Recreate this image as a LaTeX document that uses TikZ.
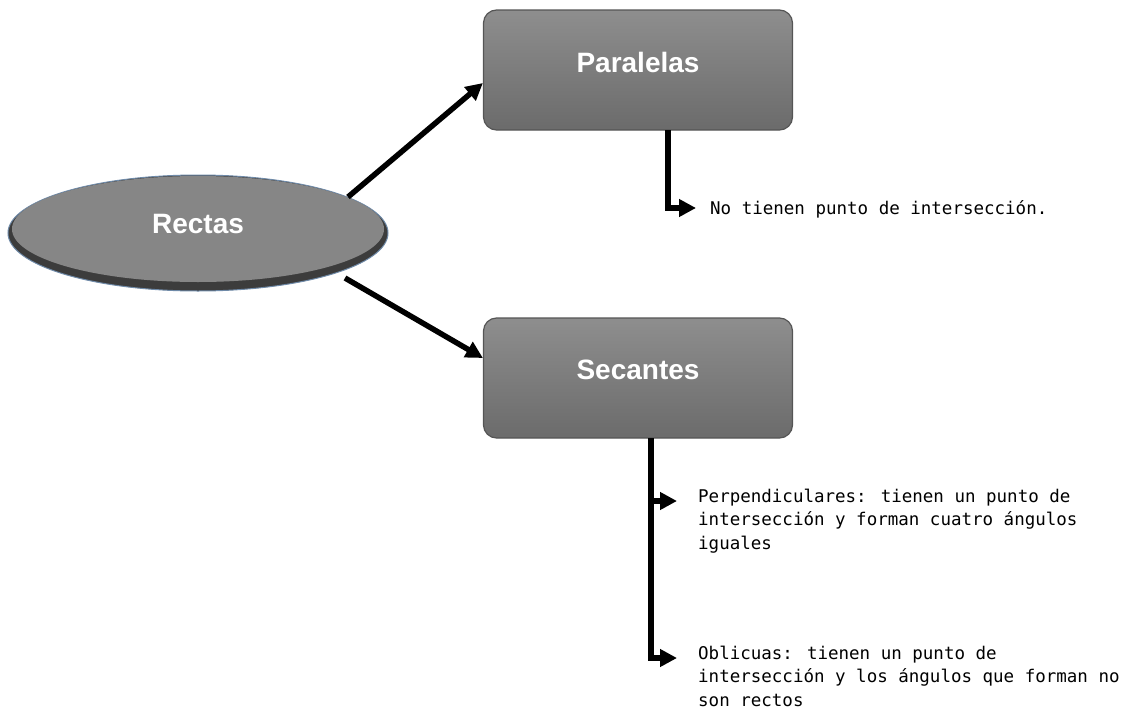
\documentclass[tikz,border=0pt]{standalone}
\usepackage{fontspec}
\setmainfont{Liberation Sans}
\newfontfamily\monof{DejaVu Sans Mono}
\usetikzlibrary{arrows.meta,shapes.geometric,calc}
\definecolor{boxtop}{HTML}{8E8E8E}
\definecolor{boxbot}{HTML}{6B6B6B}
\definecolor{boxline}{HTML}{555555}
\definecolor{ellfill}{HTML}{868686}
\definecolor{ellrim}{HTML}{3C3C3C}
\definecolor{elledge}{HTML}{6F8AA8}
\tikzset{
  x=1pt, y=-1pt,
  gbox/.style={draw=boxline, line width=1.2pt, rounded corners=13pt,
    top color=boxtop, bottom color=boxbot, minimum width=309pt, minimum height=120pt,
    inner sep=0pt},
  btitle/.style={text=white, font=\fontsize{28}{31}\selectfont\bfseries},
  conn/.style={line width=5.5pt, draw=black, -{Triangle[length=17pt,width=17pt]}},
  txt/.style={font=\monof\fontsize{17.5}{23.3}\selectfont, align=left, inner sep=0pt, text=black}
}
\begin{document}
\begin{tikzpicture}
\useasboundingbox (0,0) rectangle (1145,712);
% Rectas ellipse
\node[ellipse, draw=elledge, line width=1pt, fill=ellrim, minimum width=380pt, minimum height=116pt, inner sep=0pt] (rect) at (198,233) {};
\node[ellipse, fill=ellfill, minimum width=372pt, minimum height=106pt, inner sep=0pt] (recti) at (198,229) {};
\node[text=white, font=\fontsize{28}{31}\selectfont\bfseries] (rectt) at (198,224) {Rectas};
% boxes
\node[gbox] (par) at (638,70) {};
\node[btitle] (part) at (638,62) {Paralelas};
\node[gbox] (sec) at (638,378) {};
\node[btitle] (sect) at (638,370) {Secantes};
% main arrows
\coordinate (ra) at (348,197);
\coordinate (rb) at (345,278);
\draw[conn] (ra) -- (par.west |- 0,83);
\draw[conn] (rb) -- (sec.west |- 0,358);
% Paralelas branch
\coordinate (pdown) at (668,130);
\coordinate (ptip) at (696,208);
\draw[conn] (pdown) |- (ptip);
\node[txt, anchor=west] (notxt) at (710,209) {No tienen punto de intersección.};
% Secantes branches
\coordinate (sdown) at (651,438);
\coordinate (s1) at (651,501);
\coordinate (t1) at (677,501);
\coordinate (t2) at (677,658);
\draw[conn] (sdown) |- (t2);
\draw[conn] (s1) -- (t1);
\node[txt, anchor=north west] (perp) at (698,489) {Perpendiculares: tienen un punto de\\intersección y forman cuatro ángulos\\iguales};
\node[txt, anchor=north west] (obl) at (698,646) {Oblicuas: tienen un punto de\\intersección y los ángulos que forman no\\son rectos};
\end{tikzpicture}
\end{document}
